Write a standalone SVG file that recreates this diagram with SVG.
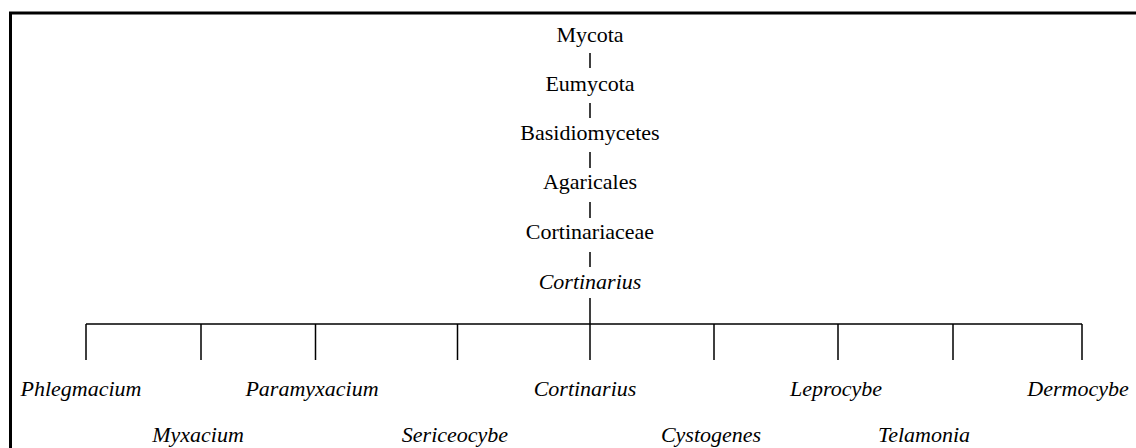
<svg xmlns="http://www.w3.org/2000/svg" width="1136" height="448" viewBox="0 0 1136 448">
<style>
text{font-family:"Liberation Serif","Times New Roman",serif;font-size:22px;fill:#000;text-anchor:middle}
.it{font-style:italic}
.ln{stroke:#000;stroke-width:1.5;fill:none}
</style>
<rect width="1136" height="448" fill="#fff"/>
<path d="M10.5,450 V13 H1140" stroke="#000" stroke-width="3" fill="none"/>
<g id="connectors">
<path class="ln" d="M590,53V68 M590,103V118 M590,152V168 M590,202V218 M590,252V267 M590,298V324"/>
<path class="ln" d="M86,324H1082 M86,324V360 M201,324V360 M315.5,324V360 M457.5,324V360 M590,324V360 M714,324V360 M838,324V360 M953,324V360 M1082,324V360"/>
</g>
<g id="n-mycota"><text x="590" y="42">Mycota</text></g>
<g id="n-eumycota"><text x="590" y="91">Eumycota</text></g>
<g id="n-basidiomycetes"><text x="590" y="140">Basidiomycetes</text></g>
<g id="n-agaricales"><text x="590" y="189">Agaricales</text></g>
<g id="n-cortinariaceae"><text x="590" y="239">Cortinariaceae</text></g>
<g id="n-cortinarius-genus"><text class="it" x="590" y="289">Cortinarius</text></g>
<g id="n-phlegmacium"><text class="it" x="81" y="396">Phlegmacium</text></g>
<g id="n-myxacium"><text class="it" x="198" y="442">Myxacium</text></g>
<g id="n-paramyxacium"><text class="it" x="312" y="396">Paramyxacium</text></g>
<g id="n-sericeocybe"><text class="it" x="455" y="442">Sericeocybe</text></g>
<g id="n-cortinarius"><text class="it" x="585" y="396">Cortinarius</text></g>
<g id="n-cystogenes"><text class="it" x="711" y="442">Cystogenes</text></g>
<g id="n-leprocybe"><text class="it" x="836" y="396">Leprocybe</text></g>
<g id="n-telamonia"><text class="it" x="924" y="442">Telamonia</text></g>
<g id="n-dermocybe"><text class="it" x="1078" y="396">Dermocybe</text></g>
</svg>
